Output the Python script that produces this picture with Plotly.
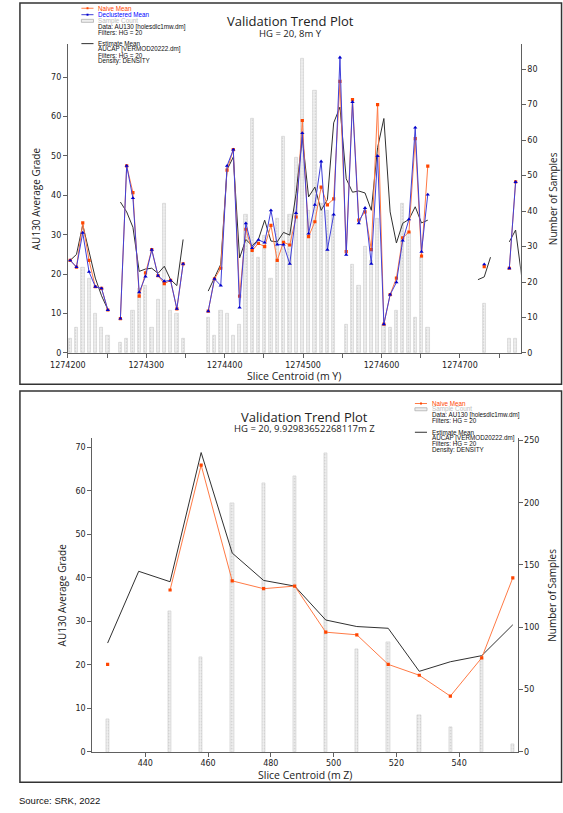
import plotly.graph_objects as go

W, H = 563, 813

# ---- top chart: 8 m slices in Y ----
slice_y = [1274203, 1274211, 1274219, 1274227, 1274235, 1274243, 1274251, 1274259,
           1274267, 1274275, 1274283, 1274291, 1274299, 1274307, 1274315, 1274323,
           1274331, 1274339, 1274347, 1274355, 1274363, 1274371, 1274379, 1274387,
           1274395, 1274403, 1274411, 1274419, 1274427, 1274435, 1274443, 1274451,
           1274459, 1274467, 1274475, 1274483, 1274491, 1274499, 1274507, 1274515,
           1274523, 1274531, 1274539, 1274547, 1274555, 1274563, 1274571, 1274579,
           1274587, 1274595, 1274603, 1274611, 1274619, 1274627, 1274635, 1274643,
           1274651, 1274659, 1274667, 1274675, 1274683, 1274691, 1274699, 1274707,
           1274715, 1274723, 1274731, 1274739, 1274747, 1274755, 1274763, 1274771,
           1274779]
N = None
naive_y = [23.5, 21.8, 33.0, 23.5, 16.8, 16.4, 10.9, N,
           8.7, 47.5, 40.7, 14.4, 20.3, 26.2, 19.6, 17.6,
           18.4, 11.2, 22.6, N, N, N, 10.6, 18.8,
           21.5, 46.4, 51.6, 14.4, 31.4, 26.0, 27.8, 27.0,
           32.4, 23.5, 28.1, 27.4, 34.5, 59.0, 29.5, 33.3,
           42.1, 37.6, 39.1, 68.9, 25.7, 64.3, 33.7, 35.8,
           26.2, 63.0, 7.3, 14.8, 19.0, 29.2, 30.7, 54.4,
           24.6, 47.4, N, N, N, N, N, N,
           N, N, 21.9, N, N, N, 21.5, 43.4,
           N]
declust_y = [23.5, 21.8, 30.5, 20.6, 16.8, 16.4, 10.9, N,
             8.7, 47.5, 39.3, 15.4, 19.4, 26.2, 19.6, 18.2,
             18.4, 11.2, 22.6, N, N, N, 10.6, 18.8,
             17.1, 47.5, 51.6, 11.5, 32.9, 26.6, 28.7, 28.0,
             36.2, 27.5, 27.5, 22.6, 35.5, 55.8, 30.3, 37.6,
             48.6, 26.2, 35.1, 75.0, 24.9, 63.7, 32.9, 36.8,
             22.6, 50.0, 7.3, 14.8, 17.9, 28.5, 33.9, 57.2,
             25.7, 40.2, N, N, N, N, N, N,
             N, N, 22.5, N, N, N, 21.5, 43.4,
             N]
estimate_y = [23.5, 25.0, 32.5, 26.0, 19.0, 14.5, 11.0, N,
              38.3, 35.8, 31.9, 20.7, 21.3, 21.5, 20.2, 22.0,
              18.6, 17.1, 28.8, N, N, N, 15.7, 18.9,
              22.5, 46.5, 49.7, 24.1, 28.8, 27.2, 28.8, 33.7,
              28.4, 28.2, 30.6, 29.9, 40.4, 54.8, 39.6, 42.1,
              36.2, 38.9, 58.4, 62.4, 44.2, 40.8, 41.1, 40.6,
              36.2, 52.1, 59.5, 35.8, 27.9, 32.9, 33.9, 37.1,
              33.0, 33.7, N, N, N, N, N, N,
              N, 18.6, 19.3, 24.3, N, N, 28.2, 31.2,
              19.0]
count_y = [4, 7, 24, 21, 11, 7, 5, N,
           3, 4, 12, 18, 19, 7, 15, 42,
           12, 11, 4, N, N, N, 10, 5,
           12, 11, 5, 8, 39, 66, 27, 33,
           21, 38, 61, 39, 55, 83, 40, 74,
           42, 40, 39, N, 8, 25, 19, 30,
           26, 38, 8, 7, 12, 42, 34, 10,
           27, 7, N, N, N, N, N, N,
           N, N, 14, N, N, N, 4, 4,
           N]
ticks_y = [1274200, 1274250, 1274300, 1274350, 1274400, 1274450, 1274500,
           1274550, 1274600, 1274650, 1274700, 1274750]
ticktext_y = ['1274200', '', '1274300', '', '1274400', '', '1274500',
              '', '1274600', '', '1274700', '']

# ---- bottom chart: 9.93 m slices in Z ----
slice_z = [428.0, 437.9, 447.9, 457.8, 467.7, 477.7, 487.6,
           497.5, 507.4, 517.4, 527.3, 537.2, 547.2, 557.1]
naive_z = [20.1, N, 37.2, 65.9, 39.3, 37.5, 38.1,
           27.5, 26.9, 20.1, 17.6, 12.8, 21.6, 40.0]
estimate_z = [25.0, 41.5, 39.1, 68.8, 45.7, 39.4, 38.1,
              30.3, 28.8, 28.4, 18.5, 20.7, 22.1, 29.2]
count_z = [26, N, 113, 76, 200, 216, 221,
           240, 82, 88, 29, 20, 75, 6]

ORANGE_LINE = '#FF7A45'
ORANGE = '#FF4500'
BLUE_LINE = '#4040D8'
BLUE = '#0000CC'
BLACK = '#303030'
AXIS = '#606060'
TICKFONT = dict(family='DejaVu Sans', size=8, color='#222222')
LEGFONT = 'Liberation Sans'


def px(x):
    return x / W


def py(y):
    return 1 - y / H


bar_style = dict(
    marker=dict(color='#eeeeee',
                line=dict(color='#cccccc', width=0.6),
                pattern=dict(shape='.', fgcolor='#a0a0a0', bgcolor='#eeeeee',
                             size=3, solidity=0.2)),
    showlegend=False, hoverinfo='skip')

fig = go.Figure()

# top chart
fig.add_trace(go.Bar(x=slice_y, y=count_y, width=4.2, xaxis='x', yaxis='y', **bar_style))
fig.add_trace(go.Scatter(x=slice_y, y=estimate_y, mode='lines', xaxis='x', yaxis='y2',
                         line=dict(color=BLACK, width=1), showlegend=False))
fig.add_trace(go.Scatter(x=slice_y, y=naive_y, mode='lines+markers', xaxis='x', yaxis='y2',
                         line=dict(color=ORANGE_LINE, width=1),
                         marker=dict(symbol='square', size=3.2, color=ORANGE),
                         showlegend=False))
fig.add_trace(go.Scatter(x=slice_y, y=declust_y, mode='lines+markers', xaxis='x', yaxis='y2',
                         line=dict(color=BLUE_LINE, width=1),
                         marker=dict(symbol='triangle-up', size=3.8, color=BLUE),
                         showlegend=False))

# bottom chart
fig.add_trace(go.Bar(x=slice_z, y=count_z, width=1.0, xaxis='x2', yaxis='y3', **bar_style))
fig.add_trace(go.Scatter(x=slice_z, y=estimate_z, mode='lines', xaxis='x2', yaxis='y4',
                         line=dict(color=BLACK, width=1), showlegend=False))
fig.add_trace(go.Scatter(x=slice_z, y=naive_z, mode='lines+markers', xaxis='x2', yaxis='y4',
                         line=dict(color=ORANGE_LINE, width=1),
                         marker=dict(symbol='square', size=3.2, color=ORANGE),
                         showlegend=False))

axis_common = dict(showline=True, linecolor=AXIS, linewidth=1, ticks='outside',
                   ticklen=4, tickcolor=AXIS, tickfont=TICKFONT, showgrid=False,
                   zeroline=False, fixedrange=True)

fig.update_layout(
    width=W, height=H,
    margin=dict(l=0, r=0, t=0, b=0),
    paper_bgcolor='white', plot_bgcolor='white',
    barmode='overlay', bargap=0,
    xaxis=dict(domain=[px(51.5), px(519.3)], range=[1274200, 1274777.5], anchor='y',
               tickvals=ticks_y, ticktext=ticktext_y, **axis_common),
    yaxis=dict(domain=[py(354), py(42)], range=[0, 87.2], side='right', anchor='x',
               dtick=10, **axis_common),
    yaxis2=dict(overlaying='y', range=[0, 78.5], side='left', anchor='x',
                dtick=10, **axis_common),
    xaxis2=dict(domain=[px(76.7), px(516)], range=[423.1, 558.6], anchor='y3',
                dtick=20, tick0=440, **axis_common),
    yaxis3=dict(domain=[py(756.3), py(440)], range=[0, 251.8], side='right', anchor='x2',
                dtick=50, **axis_common),
    yaxis4=dict(overlaying='y3', range=[0, 72.1], side='left', anchor='x2',
                dtick=10, **axis_common),
)

shapes = []
annots = []

# frames around each chart
for top, bot in [(1, 385.5), (392.5, 787)]:
    shapes.append(dict(type='rect', xref='paper', yref='paper', x0=px(2), x1=px(561.5),
                       y0=py(bot), y1=py(top), line=dict(color='#333333', width=1.5)))


def text(x, y, s, size, color='#222222', family='Open Sans', anchor='left', angle=0):
    annots.append(dict(x=px(x), y=py(y), xref='paper', yref='paper', text=s,
                       showarrow=False, xanchor=anchor, yanchor='middle', textangle=angle,
                       borderpad=0, font=dict(family=family, size=size, color=color)))


def legend(x0, rows):
    # rows: (y, kind, label, color)
    for y, kind, label, color in rows:
        if kind in ('orange', 'blue', 'black'):
            lc = {'orange': ORANGE_LINE, 'blue': BLUE_LINE, 'black': BLACK}[kind]
            shapes.append(dict(type='line', xref='paper', yref='paper', x0=px(x0), x1=px(x0 + 12.5),
                               y0=py(y), y1=py(y), line=dict(color=lc, width=1)))
            if kind != 'black':
                mc = ORANGE if kind == 'orange' else BLUE
                shapes.append(dict(type='rect', xref='paper', yref='paper',
                                   x0=px(x0 + 5.3), x1=px(x0 + 7.3), y0=py(y + 1.0), y1=py(y - 1.0),
                                   fillcolor=mc, line=dict(width=0)))
        elif kind == 'bar':
            shapes.append(dict(type='rect', xref='paper', yref='paper', x0=px(x0), x1=px(x0 + 12.5),
                               y0=py(y + 1.5), y1=py(y - 1.5), fillcolor='#eeeeee',
                               line=dict(color='#b0b0b0', width=0.8)))
        text(x0 + 16.5, y, label, 6.3, color=color, family=LEGFONT)


# top chart texts
text(282, 19.5, 'Validation Trend Plot', 13, anchor='center')
text(282, 32, 'HG = 20, 8m Y', 9.5, anchor='center')
text(285.4, 377, 'Slice Centroid (m Y)', 10.5, anchor='center')
text(18.5, 198, 'AU130 Average Grade', 10, anchor='center', angle=-90)
text(552.5, 198, 'Number of Samples', 10, anchor='center', angle=-90)
legend(65.5, [
    (6.3, 'orange', 'Naive Mean', ORANGE),
    (12.8, 'blue', 'Declustered Mean', '#0000FF'),
    (19, 'bar', 'Sample Count', '#BDBDBD'),
    (24.8, None, 'Data: AU130 [holesdlc1mw.dm]', '#111111'),
    (30.5, None, 'Filters: HG = 20', '#111111'),
    (42, 'black', 'Estimate Mean', '#111111'),
    (47.8, None, 'AUCAP [VERMOD20222.dm]', '#111111'),
    (53.7, None, 'Filters: HG = 20', '#111111'),
    (59.4, None, 'Density: DENSITY', '#111111'),
])

# bottom chart texts
text(296.3, 418.5, 'Validation Trend Plot', 13, anchor='center')
text(296.3, 430.5, 'HG = 20, 9.92983652268117m Z', 9.5, anchor='center')
text(296.3, 779.5, 'Slice Centroid (m Z)', 10.5, anchor='center')
text(45, 598, 'AU130 Average Grade', 10, anchor='center', angle=-90)
text(551.5, 598, 'Number of Samples', 10, anchor='center', angle=-90)
legend(410, [
    (405, 'orange', 'Naive Mean', ORANGE),
    (410.8, 'bar', 'Sample Count', '#BDBDBD'),
    (416.7, None, 'Data: AU130 [holesdlc1mw.dm]', '#111111'),
    (422.4, None, 'Filters: HG = 20', '#111111'),
    (434, 'black', 'Estimate Mean', '#111111'),
    (439.8, None, 'AUCAP [VERMOD20222.dm]', '#111111'),
    (445.7, None, 'Filters: HG = 20', '#111111'),
    (451.7, None, 'Density: DENSITY', '#111111'),
])

text(0, 805, 'Source: SRK, 2022', 9.5, color='#111111', family='Liberation Sans')

fig.update_layout(shapes=shapes, annotations=annots)

fig.write_html("out.html", config={'displayModeBar': False},
               post_script="document.body.style.margin='0';")
